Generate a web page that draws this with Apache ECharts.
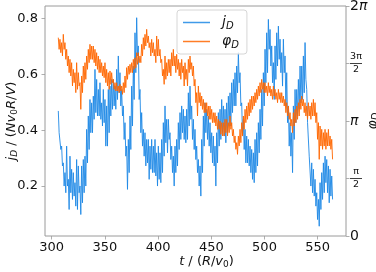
<!DOCTYPE html>
<html><head><meta charset="utf-8">
<script src="https://cdn.jsdelivr.net/npm/echarts@6/dist/echarts.min.js"></script>
<style>html,body{margin:0;padding:0;background:#fff}#c{width:376px;height:272px}</style>
</head><body><div id="c"></div>
<script>
// sampling grid of the time series (t in units of R/v0)
const tStart = 306.2, tStep = 0.7835;

// j_D values
const jD = [
0.469,0.391, 0.391,0.331, 0.343,0.272, 0.283,0.200, 0.248,0.176, 0.343,0.200, 0.224,0.116, 0.307,0.176, 0.260,0.152, 0.248,0.164, 0.212,0.128, 0.295,0.116, 0.272,0.176, 0.200,0.098, 0.272,0.140, 0.295,0.176, 0.307,0.200, 0.403,0.283, 0.451,0.331, 0.510,0.391, 0.498,0.391, 0.522,0.439, 0.618,0.463, 0.582,0.451, 0.546,0.451, 0.570,0.439, 0.498,0.415, 0.546,0.427,
0.510,0.343, 0.487,0.343, 0.546,0.391, 0.558,0.451, 0.582,0.475, 0.582,0.487, 0.558,0.475, 0.618,0.510, 0.666,0.534, 0.606,0.487, 0.546,0.451, 0.487,0.367, 0.427,0.307, 0.343,0.188, 0.367,0.248, 0.451,0.331, 0.558,0.415, 0.630,0.510, 0.749,0.606, 0.803,0.666, 0.702,0.510, 0.546,0.391, 0.463,0.343, 0.403,0.307, 0.391,0.272, 0.367,0.283, 0.367,0.224, 0.343,0.260, 0.367,0.248, 0.343,0.248, 0.367,0.236, 0.319,0.200, 0.343,0.224, 0.319,0.212, 0.367,0.248, 0.427,0.307,
0.487,0.355, 0.439,0.319, 0.439,0.367, 0.391,0.295, 0.343,0.248, 0.307,0.200, 0.343,0.248, 0.367,0.272, 0.427,0.331, 0.463,0.367, 0.487,0.391, 0.475,0.367, 0.451,0.355, 0.475,0.367, 0.534,0.415, 0.558,0.439, 0.487,0.367, 0.439,0.331, 0.403,0.295, 0.343,0.248, 0.295,0.200, 0.272,0.164, 0.367,0.248, 0.451,0.343, 0.498,0.391, 0.475,0.367, 0.451,0.343, 0.427,0.319, 0.391,0.283, 0.379,0.272, 0.343,0.200, 0.391,0.283, 0.463,0.343, 0.475,0.367, 0.510,0.391, 0.487,0.379,
0.475,0.355, 0.498,0.391, 0.522,0.415, 0.534,0.415, 0.570,0.463, 0.582,0.487, 0.606,0.487, 0.630,0.534, 0.678,0.570, 0.606,0.487, 0.498,0.379, 0.439,0.331, 0.403,0.283, 0.379,0.283, 0.367,0.272, 0.343,0.248, 0.331,0.224, 0.319,0.212, 0.367,0.248, 0.391,0.272, 0.427,0.319, 0.475,0.367, 0.546,0.415, 0.606,0.487, 0.690,0.570, 0.749,0.606, 0.797,0.690, 0.761,0.630, 0.702,0.570, 0.642,0.510, 0.702,0.582, 0.749,0.630, 0.773,0.654, 0.726,0.606, 0.678,0.558, 0.726,0.606,
0.666,0.487, 0.606,0.427, 0.487,0.343, 0.427,0.307, 0.391,0.248, 0.487,0.367, 0.546,0.427, 0.546,0.451, 0.582,0.475, 0.630,0.498, 0.630,0.510, 0.666,0.534, 0.714,0.582, 0.546,0.427, 0.427,0.307, 0.307,0.200, 0.283,0.176, 0.260,0.164, 0.224,0.128, 0.176,0.080, 0.152,0.056, 0.212,0.116, 0.248,0.152, 0.283,0.176, 0.307,0.212, 0.295,0.176, 0.272,0.140, 0.260,0.164, 0.236,0.152
];

// phi_D values (radians)
const phiD = [
5.418,5.099, 5.373,5.008, 5.282,4.917, 5.509,5.099, 5.282,4.826, 5.099,4.644, 4.917,4.462, 4.826,4.371, 4.735,4.098, 4.553,4.189, 4.462,3.916, 4.735,4.007, 4.462,4.098, 4.189,3.460, 4.371,3.916, 4.644,4.189, 4.735,4.280, 4.917,4.553, 5.099,4.735, 5.236,4.826, 5.190,4.826, 5.190,4.735, 5.099,4.644, 5.008,4.553, 4.917,4.462, 4.826,4.462, 4.735,4.371, 4.644,4.325,
4.735,4.189, 4.553,4.098, 4.462,4.007, 4.508,4.143, 4.462,4.189, 4.280,4.007, 4.189,3.961, 4.189,3.961, 4.098,3.916, 4.143,3.961, 4.098,3.870, 4.189,3.916, 4.371,4.052, 4.599,4.280, 4.644,4.416, 4.690,4.462, 4.735,4.462, 4.826,4.553, 4.872,4.599, 5.008,4.690, 5.008,4.735, 4.917,4.735, 5.236,4.917, 5.418,5.099, 5.509,5.190, 5.646,5.282, 5.464,5.145, 5.282,4.917, 5.373,5.008, 5.282,4.917, 5.099,4.735, 5.464,4.917, 5.373,4.917, 5.099,4.735, 4.826,4.371, 4.553,4.143,
4.917,4.280, 4.735,4.371, 4.826,4.462, 4.826,4.371, 5.008,4.644, 5.099,4.644, 4.917,4.462, 4.963,4.553, 4.826,4.371, 4.735,4.280, 4.826,4.462, 4.644,4.098, 4.735,4.280, 4.553,4.098, 4.826,4.462, 4.917,4.553, 4.735,4.371, 4.644,4.098, 4.280,3.642, 3.916,3.278, 4.098,3.642, 3.916,3.551, 3.824,3.460, 3.733,3.369, 3.642,3.369, 3.642,3.278, 3.551,3.187, 3.551,3.187, 3.460,3.096, 3.369,3.096, 3.369,3.005, 3.278,2.914, 3.187,2.914, 3.142,2.777, 3.096,2.732, 3.096,2.732,
3.187,2.823, 3.187,2.732, 3.096,2.823, 3.278,2.914, 3.096,2.732, 2.914,2.550, 2.732,2.368, 2.550,2.231, 2.732,2.459, 2.914,2.550, 3.096,2.732, 3.278,2.914, 3.460,3.096, 3.551,3.187, 3.642,3.278, 3.733,3.369, 3.824,3.460, 3.824,3.551, 3.916,3.642, 4.007,3.733, 4.098,3.824, 4.189,3.916, 4.280,4.007, 4.189,3.916, 4.189,3.916, 4.098,3.824, 4.189,3.916, 4.098,3.824, 4.007,3.733, 4.098,3.824, 4.007,3.733, 3.916,3.642, 4.007,3.733, 3.916,3.642, 3.916,3.642, 3.824,3.551,
3.733,3.369, 3.642,3.278, 3.551,3.187, 3.369,3.005, 3.187,2.823, 3.369,3.005, 3.460,3.096, 3.551,3.187, 3.642,3.278, 3.733,3.460, 3.824,3.551, 3.733,3.369, 3.642,3.278, 3.551,3.187, 3.642,3.278, 3.551,3.187, 3.642,3.278, 3.733,3.278, 3.642,3.096, 3.369,2.641, 3.096,2.094, 3.005,2.459, 2.914,2.368, 2.823,2.459, 2.914,2.368, 2.823,2.459, 2.914,2.459, 2.732,2.368, 2.641,2.094
];

const xTicks = [300, 350, 400, 450, 500, 550];
const jTicks = [0.2, 0.4, 0.6, 0.8];
const phiTicks = [0, Math.PI / 2, Math.PI, 3 * Math.PI / 2, 2 * Math.PI];
const phiTickLabels = ['{r|0}', '{fn|π}\n{fb| }\n{fd|2}', '{rp|π}', '{fn|3π}\n{fb| }\n{fd|2}', '{r|2}{rp|π}'];

const FONT = 'DejaVu Sans';
const blue = '#1e88e5', orange = '#ff6600';
const spine = '#9a9a9a';

const jData = jD.map((v, i) => [tStart + i * tStep, v]);
const phiData = phiD.map((v, i) => [tStart + i * tStep, v]);

const chart = echarts.init(document.getElementById('c'), null, { renderer: 'canvas' });

const tickStyle = { show: true, inside: false, length: 3.5, lineStyle: { color: spine, width: 0.8 } };

chart.setOption({
  animation: false,
  backgroundColor: '#fff',
  grid: { left: 45, right: 30, top: 6, bottom: 36, containLabel: false, outerBoundsMode: 'none',
          show: true, borderColor: spine, borderWidth: 1, backgroundColor: 'transparent' },
  legend: {
    left: 177, top: 10, orient: 'vertical',
    backgroundColor: 'rgba(255,255,255,0.8)', borderColor: '#d6d6d6', borderWidth: 1, borderRadius: 3,
    padding: [4, 8, 4, 6], itemGap: 2, itemWidth: 27, itemHeight: 1.5, icon: 'rect',
    data: [
      { name: 'jD', itemStyle: { color: blue, opacity: 0.85 } },
      { name: 'phiD', itemStyle: { color: orange, opacity: 0.85 } }
    ],
    formatter: n => n === 'jD' ? '{g|}{i|j}{s|D}' : '{g|}{i|φ}{s|D}',
    textStyle: {
      fontFamily: FONT, color: '#111',
      rich: {
        g: { width: 7 },
        i: { fontFamily: FONT, fontStyle: 'italic', fontSize: 14, lineHeight: 19, color: '#111' },
        s: { fontFamily: FONT, fontStyle: 'italic', fontSize: 10, lineHeight: 12, padding: [7, 0, 0, 0], color: '#111' }
      }
    }
  },
  xAxis: {
    type: 'value', min: 293.7, max: 576.6,
    axisLine: { show: false },
    splitLine: { show: false },
    axisTick: Object.assign({ customValues: xTicks }, tickStyle),
    axisLabel: { customValues: xTicks, margin: 5, fontFamily: FONT, fontSize: 13, color: '#111' },
    name: '{i|t}{n| / (}{i|R}{n|/}{i|v}{s|0}{n|)}',
    nameLocation: 'middle', nameGap: 18, nameMoveOverlap: false,
    nameTextStyle: {
      padding: [0, 0, 0, 22],
      rich: {
        i: { fontFamily: FONT, fontStyle: 'italic', fontSize: 13, lineHeight: 16, color: '#111' },
        n: { fontFamily: FONT, fontSize: 13, lineHeight: 16, color: '#111' },
        s: { fontFamily: FONT, fontSize: 9, lineHeight: 10, padding: [6, 0, 0, 0], color: '#111' }
      }
    }
  },
  yAxis: [
    {
      type: 'value', min: 0.021, max: 0.845, position: 'left',
      axisLine: { show: false }, splitLine: { show: false },
      axisTick: Object.assign({ customValues: jTicks }, tickStyle),
      axisLabel: { customValues: jTicks, margin: 7, fontFamily: FONT, fontSize: 13, color: '#111', formatter: v => v.toFixed(1) },
      name: '{i|j}{s|D}{n| / (}{i|Nv}{s0|0}{i|R}{n|/}{i|V}{n|)}',
      nameLocation: 'middle', nameGap: 25, nameRotate: 90, nameMoveOverlap: false,
      nameTextStyle: {
        rich: {
          i: { fontFamily: FONT, fontStyle: 'italic', fontSize: 13, lineHeight: 16, color: '#111' },
          n: { fontFamily: FONT, fontSize: 13, lineHeight: 16, color: '#111' },
          s: { fontFamily: FONT, fontStyle: 'italic', fontSize: 9, lineHeight: 10, padding: [6, 0, 0, 0], color: '#111' },
          s0: { fontFamily: FONT, fontSize: 9, lineHeight: 10, padding: [6, 0, 0, 0], color: '#111' }
        }
      }
    },
    {
      type: 'value', min: 0, max: 2 * Math.PI, position: 'right',
      axisLine: { show: false }, splitLine: { show: false },
      axisTick: Object.assign({ customValues: phiTicks }, tickStyle),
      axisLabel: {
        customValues: phiTicks, margin: 4, fontFamily: FONT, color: '#111',
        formatter: v => {
          let best = 0;
          phiTicks.forEach((p, k) => { if (Math.abs(p - v) < Math.abs(phiTicks[best] - v)) best = k; });
          return phiTickLabels[best];
        },
        rich: {
          r: { fontFamily: FONT, fontSize: 14, color: '#111' },
          rp: { fontFamily: FONT, fontStyle: 'italic', fontSize: 14, color: '#111' },
          fn: { fontFamily: FONT, fontSize: 9.5, lineHeight: 10, width: 12, align: 'center', color: '#111' },
          fb: { fontSize: 1, lineHeight: 3, width: 12, height: 0.8, backgroundColor: '#111' },
          fd: { fontFamily: FONT, fontSize: 9.5, lineHeight: 10, width: 12, align: 'center', color: '#111' }
        }
      },
      name: '{i|φ}{s|D}',
      nameLocation: 'middle', nameGap: 19, nameRotate: 90, nameMoveOverlap: false,
      nameTextStyle: {
        rich: {
          i: { fontFamily: FONT, fontStyle: 'italic', fontSize: 14, lineHeight: 17, color: '#111' },
          s: { fontFamily: FONT, fontStyle: 'italic', fontSize: 10, lineHeight: 11, padding: [6, 0, 0, 0], color: '#111' }
        }
      }
    }
  ],
  series: [
    { name: 'jD', type: 'line', yAxisIndex: 0, data: jData, showSymbol: false, symbol: 'none', sampling: null,
      lineStyle: { color: blue, width: 1, opacity: 0.9 }, itemStyle: { color: blue }, z: 2 },
    { name: 'phiD', type: 'line', yAxisIndex: 1, data: phiData, showSymbol: false, symbol: 'none', sampling: null,
      lineStyle: { color: orange, width: 1, opacity: 0.9 }, itemStyle: { color: orange }, z: 3 }
  ]
});
</script>
</body></html>
